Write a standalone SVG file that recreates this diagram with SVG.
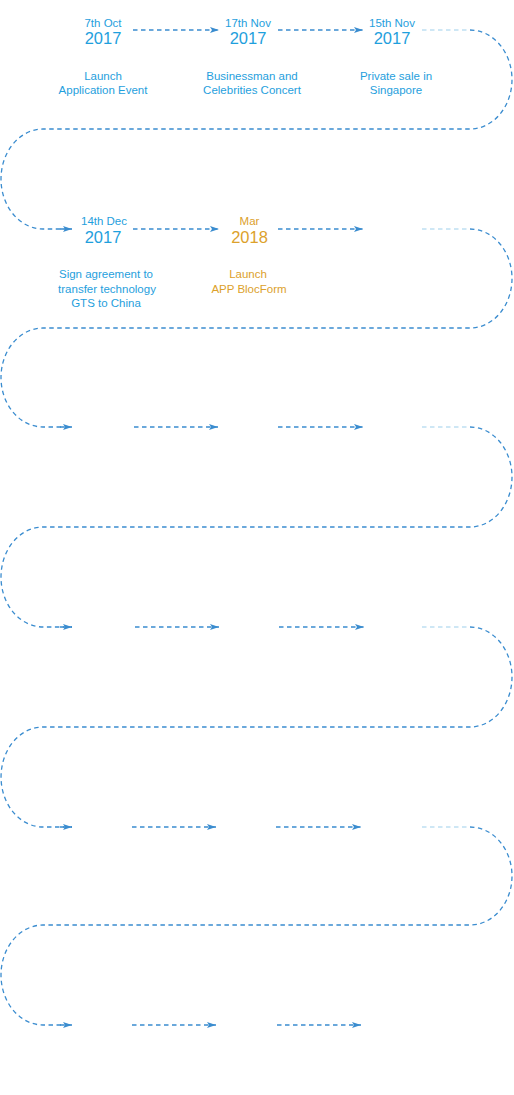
<svg xmlns="http://www.w3.org/2000/svg" width="514" height="1095" viewBox="0 0 514 1095">
<defs>
<marker id="ah" viewBox="0 0 9 6" refX="9" refY="3" markerWidth="9" markerHeight="6" markerUnits="userSpaceOnUse" orient="auto">
<path d="M0,0 L9,3 L0,6 L2,3 Z" fill="#3a8ccf"/>
</marker>
<style>
.c{fill:none;stroke:#3a8ccf;stroke-width:1.3;stroke-dasharray:4.5 3.5}
.a{marker-end:url(#ah)}
.f{fill:none;stroke:#bfdff2;stroke-width:1.3;stroke-dasharray:4.5 3.5}
.t{font-family:"Liberation Sans",Arial,sans-serif;text-anchor:middle;fill:#1fa0dd}
.g{fill:#dca12b}
.d{font-size:11.5px}
.y{font-size:16.5px}
</style>
</defs>
<rect width="514" height="1095" fill="#ffffff"/>
<g id="connectors">
<path class="c a" d="M133,30 H219"/>
<path class="c a" d="M278,30 H363"/>
<path class="f" d="M422,30 H470"/>
<path class="c" d="M470,30 A42,49.5 0 0 1 470,129 H43 A42,50 0 0 0 43,229 H72"/>
<path class="c a" d="M60,229 H72"/>
<path class="c a" d="M133,229 H219"/>
<path class="c a" d="M278,229 H363"/>
<path class="f" d="M422,229 H470"/>
<path class="c" d="M470,229 A42,49.5 0 0 1 470,328 H43 A42,49.5 0 0 0 43,427 H72"/>
<path class="c a" d="M60,427 H72"/>
<path class="c a" d="M134,427 H218"/>
<path class="c a" d="M278,427 H363"/>
<path class="f" d="M422,427 H470"/>
<path class="c" d="M470,427 A42,50 0 0 1 470,527 H43 A42,50 0 0 0 43,627 H72"/>
<path class="c a" d="M60,627 H72"/>
<path class="c a" d="M135,627 H219"/>
<path class="c a" d="M279,627 H364"/>
<path class="f" d="M422,627 H470"/>
<path class="c" d="M470,627 A42,50 0 0 1 470,727 H43 A42,50 0 0 0 43,827 H72"/>
<path class="c a" d="M60,827 H72"/>
<path class="c a" d="M132,827 H216"/>
<path class="c a" d="M276,827 H361"/>
<path class="f" d="M422,827 H470"/>
<path class="c" d="M470,827 A42,49 0 0 1 470,925 H43 A42,50 0 0 0 43,1025 H72"/>
<path class="c a" d="M60,1025 H72"/>
<path class="c a" d="M132,1025 H216"/>
<path class="c a" d="M277,1025 H361"/>
</g>
<g id="node-1">
<text class="t d" x="103" y="27">7th Oct</text>
<text class="t y" x="103" y="44">2017</text>
<text class="t d" x="103" y="80">Launch</text>
<text class="t d" x="103" y="94">Application Event</text>
</g>
<g id="node-2">
<text class="t d" x="248" y="27">17th Nov</text>
<text class="t y" x="248" y="44">2017</text>
<text class="t d" x="252" y="80">Businessman and</text>
<text class="t d" x="252" y="94">Celebrities Concert</text>
</g>
<g id="node-3">
<text class="t d" x="392" y="27">15th Nov</text>
<text class="t y" x="392" y="44">2017</text>
<text class="t d" x="396" y="80">Private sale in</text>
<text class="t d" x="396" y="94">Singapore</text>
</g>
<g id="node-4">
<text class="t d" x="104" y="225">14th Dec</text>
<text class="t y" x="103" y="243">2017</text>
<text class="t d" x="106" y="278">Sign agreement to</text>
<text class="t d" x="107" y="292.5">transfer technology</text>
<text class="t d" x="106" y="307">GTS to China</text>
</g>
<g id="node-5">
<text class="t d g" x="249.5" y="225">Mar</text>
<text class="t y g" x="249.5" y="243">2018</text>
<text class="t d g" x="248" y="278">Launch</text>
<text class="t d g" x="249" y="292.5">APP BlocForm</text>
</g>
</svg>
